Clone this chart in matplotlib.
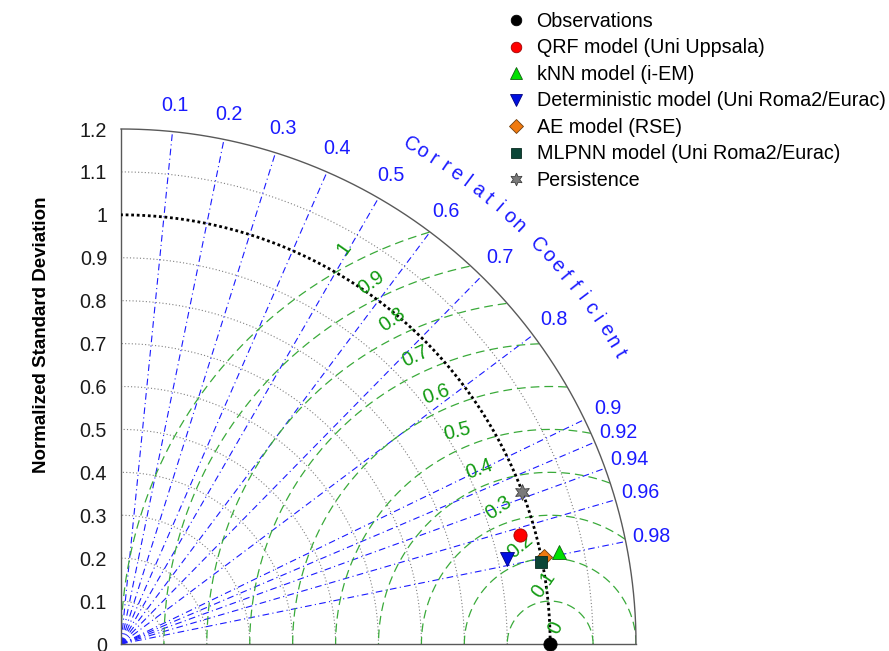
import numpy as np
import matplotlib
matplotlib.use("Agg")
import matplotlib.pyplot as plt
from matplotlib.lines import Line2D

plt.rcParams['font.family'] = ['Liberation Sans', 'DejaVu Sans']

# data
names = ["Observations", "QRF model (Uni Uppsala)", "kNN model (i-EM)",
         "Deterministic model (Uni Roma2/Eurac)", "AE model (RSE)",
         "MLPNN model (Uni Roma2/Eurac)", "Persistence"]
std_norm = [1.0, 0.964, 1.043, 0.922, 1.007, 0.997, 0.999]
corr = [1.0, 0.9646, 0.9785, 0.9766, 0.9797, 0.9813, 0.935]

corr_ticks = [0.1, 0.2, 0.3, 0.4, 0.5, 0.6, 0.7, 0.8, 0.9, 0.92, 0.94, 0.96, 0.98]
std_ticks = [0.1, 0.2, 0.3, 0.4, 0.5, 0.6, 0.7, 0.8, 0.9, 1.0, 1.1, 1.2]
std_tick_labels = ["0", "0.1", "0.2", "0.3", "0.4", "0.5", "0.6", "0.7", "0.8",
                   "0.9", "1", "1.1", "1.2"]
rms_ticks = [0.0, 0.1, 0.2, 0.3, 0.4, 0.5, 0.6, 0.7, 0.8, 0.9, 1.0]
rms_labels = ["0", "0.1", "0.2", "0.3", "0.4", "0.5", "0.6", "0.7", "0.8", "0.9", "1"]

# styles
colors = ["black", "#ff0000", "#00e000", "#0010e0", "#f07a10", "#0b4536", "#7a7a7a"]
edges = ["black", "#a00000", "#106010", "#000080", "#704010", "#082a20", "#404040"]
markers = ["o", "o", "^", "v", "D", "s", (6, 1, 0)]
msizes = [9.5, 9.5, 10.5, 10.5, 8.5, 9, 11.5]
rms_dir = [70, 96, 107, 110.6, 112, 113.7, 114.5, 115.2, 116, 116.4, 117.5]
rms_rot = [65, 55, 40, 34, 20, 14, 20, 25, 35, 35, 55]
smax = 1.2
fs = 14.2
blue = "#1a1aff"
green_line = "#3aaa3a"
green_text = "#109a10"

fig = plt.figure(figsize=(8.89, 6.51), dpi=100)
ax = fig.add_axes([121 / 889, 7 / 651, 515 / 889, 515 / 651])
ax.set_xlim(0, smax)
ax.set_ylim(0, smax)
ax.set_aspect("equal")
for s in ["top", "right"]:
    ax.spines[s].set_visible(False)
for s in ["left", "bottom"]:
    ax.spines[s].set_color("0.35")
    ax.spines[s].set_linewidth(1.0)
ax.set_xticks([])
ax.set_yticks([0] + std_ticks)
ax.set_yticklabels(std_tick_labels, fontsize=fs, color="0.1")
ax.tick_params(axis="y", length=0, pad=10)

t = np.linspace(0, np.pi / 2, 400)

# std arcs
for s in std_ticks:
    if abs(s - 1.0) < 1e-9:
        ax.plot(s * np.cos(t), s * np.sin(t), color="black", ls=(0, (1, 1)), lw=2.0, zorder=3)
    elif abs(s - smax) < 1e-9:
        ax.plot(s * np.cos(t), s * np.sin(t), color="0.35", lw=1.0, zorder=3, clip_on=False)
    else:
        ax.plot(s * np.cos(t), s * np.sin(t), color="0.5", ls=(0, (1, 2)), lw=0.8, zorder=1)

# correlation rays and labels
for c in corr_ticks:
    a = np.arccos(c)
    ax.plot([0, smax * np.cos(a)], [0, smax * np.sin(a)], color=blue, ls=(0, (6, 3, 1, 3)),
            lw=0.8, zorder=1)
    ax.text(1.26 * np.cos(a), 1.26 * np.sin(a), f"{c:g}", color=blue, fontsize=fs,
            ha="center", va="center", clip_on=False)

# curved axis title
title = "Correlation Coefficient"
a0, a1 = 59.9, 30.25
angs = np.linspace(a0, a1, len(title))
for ch, ang in zip(title, angs):
    if ch == " ":
        continue
    r = np.deg2rad(ang)
    ax.text(1.345 * np.cos(r), 1.345 * np.sin(r), ch, color=blue, fontsize=fs,
            rotation=ang - 90, rotation_mode="anchor", ha="center", va="center", clip_on=False)

# RMS circles
tt = np.linspace(0, np.pi, 800)
for r in rms_ticks[1:]:
    x = 1 + r * np.cos(tt)
    y = r * np.sin(tt)
    bad = (x ** 2 + y ** 2 > smax ** 2) | (x < 0)
    x = np.where(bad, np.nan, x)
    y = np.where(bad, np.nan, y)
    ax.plot(x, y, color=green_line, ls=(0, (7, 4)), lw=0.9, zorder=1)

for r, lab, d, rot in zip(rms_ticks, rms_labels, rms_dir, rms_rot):
    dd = np.deg2rad(d)
    ax.text(1 + (r + 0.04) * np.cos(dd), (r + 0.04) * np.sin(dd), lab, color=green_text,
            fontsize=fs, rotation=rot, ha="center", va="center", rotation_mode="anchor", zorder=4)

# points
handles = []
for n, s, c, col, ec, m, ms in zip(names, std_norm, corr, colors, edges, markers, msizes):
    a = np.arccos(c)
    ax.plot(s * np.cos(a), s * np.sin(a), marker=m, ms=ms, color=col, mec=ec, mew=0.6,
            ls="none", zorder=6, clip_on=False)
    handles.append(Line2D([], [], marker=m, ms=ms * 0.8, color=col, mec=ec, mew=0.6,
                          ls="none", label=n))

fig.legend(handles=handles, loc="upper left", bbox_to_anchor=(506.0 / 889, 1 - 12.0 / 651),
           frameon=False, fontsize=fs, borderpad=0, handlelength=1.0, handletextpad=0.55,
           labelspacing=0.38, borderaxespad=0)

fig.text(42 / 889, 1 - 335 / 651, "Normalized Standard Deviation", rotation=90,
         ha="center", va="center", fontsize=fs - 0.7, fontweight="bold")

fig.savefig("out.png", dpi=100)
